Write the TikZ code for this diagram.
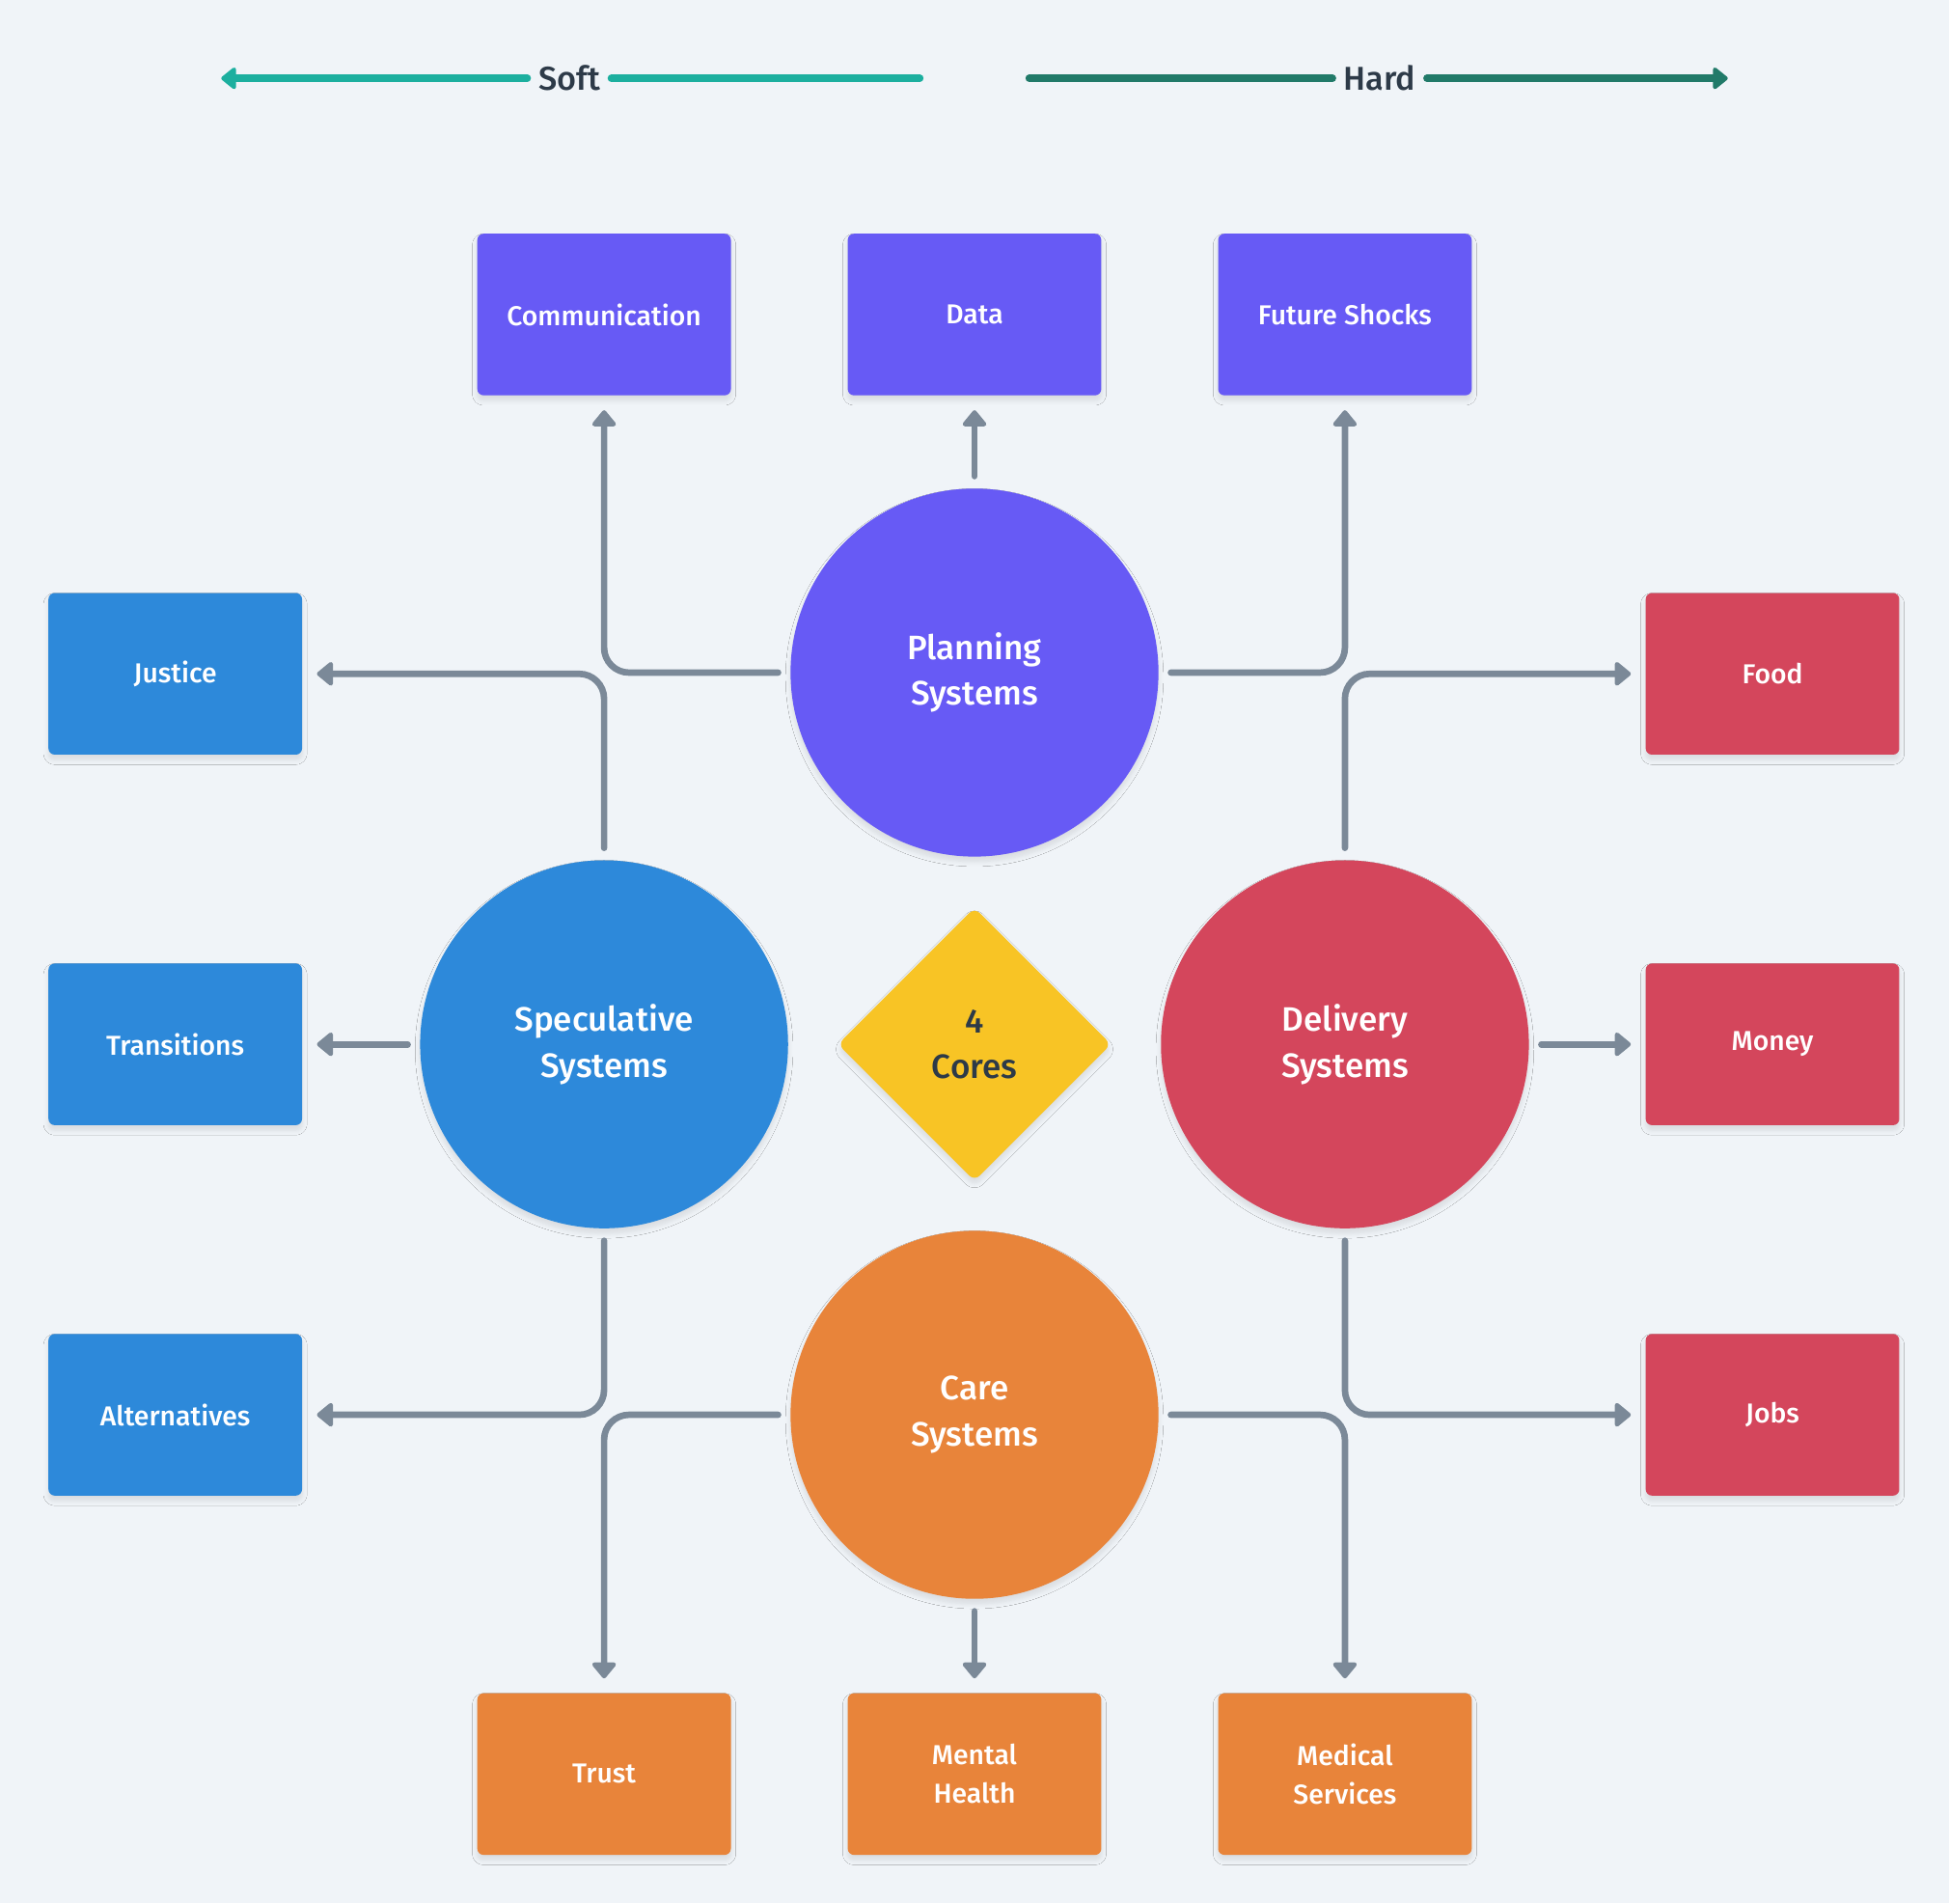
\documentclass[tikz,border=0pt]{standalone}
\usepackage{fontspec}
\setmainfont{Fira Sans}[UprightFont=* Medium]
\usetikzlibrary{arrows.meta,shapes.geometric,shadows.blur}

\definecolor{bg}{HTML}{F0F4F8}
\definecolor{plan}{HTML}{675AF5}
\definecolor{spec}{HTML}{2D89DA}
\definecolor{deliv}{HTML}{D4465C}
\definecolor{care}{HTML}{E8843A}
\definecolor{corecol}{HTML}{F8C425}
\definecolor{linecol}{HTML}{7B8998}
\definecolor{softcol}{HTML}{1CAF9F}
\definecolor{hardcol}{HTML}{217A69}
\definecolor{ink}{HTML}{2D3A48}

\tikzset{
  shade/.style={blur shadow={shadow xshift=0pt,shadow yshift=-2pt,shadow blur steps=6,
    shadow blur radius=2pt,shadow opacity=10}},
  box/.style={rectangle,rounded corners=2.5pt,minimum width=102pt,minimum height=65pt,
    text=white,align=center,outer sep=6pt,shade,font=\fontsize{11}{15.5}\selectfont},
  sys/.style={circle,minimum size=148pt,text=white,align=center,outer sep=5pt,shade,
    font=\fontsize{13.6}{18.5}\selectfont},
  core/.style={diamond,minimum size=110pt,rounded corners=3pt,fill=corecol,text=ink,
    align=center,shade,font=\fontsize{13.6}{18.5}\selectfont},
  scalelabel/.style={text=ink,inner sep=1.5pt,outer sep=3pt,font=\fontsize{13.3}{16}\selectfont},
  conn/.style={draw=linecol,line width=2.6pt,line cap=round,rounded corners=10pt,
    -{Triangle[length=7pt,width=11pt,round]}},
  scaleline/.style={line width=3pt,line cap=round}
}

\begin{document}
\begin{tikzpicture}[x=0.5pt,y=-0.5pt]
% background first
\fill[bg] (0,0) rectangle (1568,1531);

% soft / hard scale
\coordinate (softL) at (178,63);
\node[scalelabel] (soft) at (458,63) {Soft};
\coordinate (softR) at (740,63);
\draw[scaleline,softcol,{Triangle[length=6.5pt,width=10pt,round]}-] (softL) -- (soft);
\draw[scaleline,softcol] (soft) -- (softR);

\coordinate (hardL) at (828,63);
\node[scalelabel] (hard) at (1110,63) {Hard};
\coordinate (hardR) at (1390,63);
\draw[scaleline,hardcol] (hardL) -- (hard);
\draw[scaleline,hardcol,-{Triangle[length=6.5pt,width=10pt,round]}] (hard) -- (hardR);

% the four systems and the core
\node[sys,fill=plan] (plan) at (784,541) {Planning\\Systems};
\node[sys,fill=spec] (spec) at (486,840) {Speculative\\Systems};
\node[sys,fill=deliv] (deliv) at (1082,840) {Delivery\\Systems};
\node[sys,fill=care] (care) at (784,1138) {Care\\Systems};
\node[core] (core) at (784,840) {4\\Cores};

% outer boxes
\node[box,fill=plan] (comm) at (486,253) {Communication};
\node[box,fill=plan] (data) at (784,253) {Data};
\node[box,fill=plan] (shock) at (1082,253) {Future Shocks};
\node[box,fill=spec] (just) at (141,542) {Justice};
\node[box,fill=spec] (trans) at (141,840) {Transitions};
\node[box,fill=spec] (alt) at (141,1138) {Alternatives};
\node[box,fill=deliv] (food) at (1426,542) {Food};
\node[box,fill=deliv] (money) at (1426,840) {Money};
\node[box,fill=deliv] (jobs) at (1426,1138) {Jobs};
\node[box,fill=care] (trust) at (486,1427) {Trust};
\node[box,fill=care] (mental) at (784,1427) {Mental\\Health};
\node[box,fill=care] (medic) at (1082,1427) {Medical\\Services};

% connectors
\draw[conn] (plan.west) -| (comm.south);
\draw[conn] (plan.north) -- (data.south);
\draw[conn] (plan.east) -| (shock.south);
\draw[conn] (spec.north) |- (just.east);
\draw[conn] (spec.west) -- (trans.east);
\draw[conn] (spec.south) |- (alt.east);
\draw[conn] (deliv.north) |- (food.west);
\draw[conn] (deliv.east) -- (money.west);
\draw[conn] (deliv.south) |- (jobs.west);
\draw[conn] (care.west) -| (trust.north);
\draw[conn] (care.south) -- (mental.north);
\draw[conn] (care.east) -| (medic.north);
\end{tikzpicture}
\end{document}
